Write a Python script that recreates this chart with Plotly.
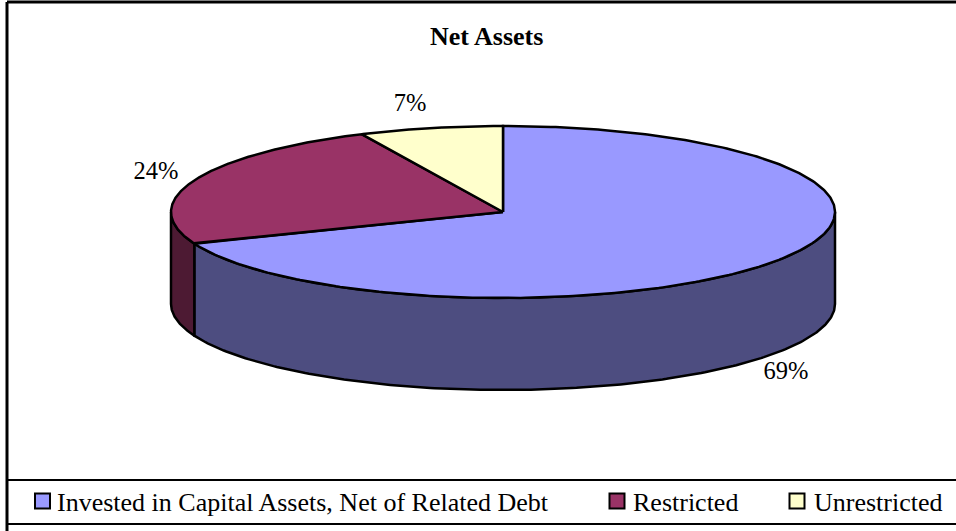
import numpy as np
import plotly.graph_objects as go

categories = ["Invested in Capital Assets, Net of Related Debt", "Restricted", "Unrestricted"]
values = [69, 24, 7]
top_colors = ["#9999FF", "#993366", "#FFFFCC"]
side_colors = ["#4D4D80", "#4D1A33", "#80805F"]
title_text = "Net Assets"

W, H = 956, 531
CX, CY, RX, RY, DEPTH = 503, 212, 332, 86, 92
label_pos = [(786, 373), (156, 173), (410, 105)]
legend_marker_x = [42.5, 617, 797]
legend_text_x = [55, 631, 812]
LEGEND_Y = 502
SERIF = "Liberation Serif"


def ell(deg, dy=0.0):
    t = np.radians(deg)
    return CX + RX * np.sin(t), CY - RY * np.cos(t) + dy


fig = go.Figure()
line = dict(color="black", width=2.5)
edges = np.cumsum([0] + values) / sum(values) * 360

# visible outer wall: angles between 90 and 270 degrees (clockwise from top)
for i in range(len(values)):
    a, b = max(edges[i], 90), min(edges[i + 1], 270)
    if b <= a:
        continue
    th = np.linspace(a, b, 200)
    x1, y1 = ell(th)
    x2, y2 = ell(th[::-1], DEPTH)
    fig.add_trace(go.Scatter(x=np.r_[x1, x2, x1[0]], y=np.r_[y1, y2, y1[0]], mode="lines",
                             fill="toself", fillcolor=side_colors[i], line=line,
                             hoverinfo="skip", showlegend=False))

# top face
for i in range(len(values)):
    th = np.linspace(edges[i], edges[i + 1], 300)
    x1, y1 = ell(th)
    fig.add_trace(go.Scatter(x=np.r_[CX, x1, CX], y=np.r_[CY, y1, CY], mode="lines",
                             fill="toself", fillcolor=top_colors[i], line=line,
                             name=categories[i], hoverinfo="skip", showlegend=False))

# percentage labels
fig.add_trace(go.Scatter(x=[p[0] for p in label_pos], y=[p[1] for p in label_pos], mode="text",
                         text=[f"{v}%" for v in values], textposition="middle center",
                         textfont=dict(family=SERIF, size=24.5, color="black"),
                         hoverinfo="skip", showlegend=False))

# legend keys and labels
fig.add_trace(go.Scatter(x=legend_marker_x, y=[LEGEND_Y - 1] * 3, mode="markers",
                         marker=dict(symbol="square", size=15, color=top_colors,
                                     line=dict(color="black", width=2)),
                         hoverinfo="skip", showlegend=False))
for x, c in zip(legend_text_x, categories):
    fig.add_annotation(x=x, y=LEGEND_Y, text=c, showarrow=False, xanchor="left", yanchor="middle",
                       font=dict(family=SERIF, size=26, color="black"))

fig.add_annotation(x=486, y=36, text=f"<b>{title_text}</b>", showarrow=False,
                   font=dict(family=SERIF, size=26, color="black"))

# frame and legend box
frame = dict(color="black", width=3)
fig.add_shape(type="line", x0=7, x1=7, y0=2, y1=531, line=frame, layer="below")
fig.add_shape(type="line", x0=7, x1=956, y0=2, y1=2, line=frame, layer="below")
fig.add_shape(type="line", x0=7, x1=956, y0=480, y1=480, line=dict(color="black", width=2), layer="below")
fig.add_shape(type="line", x0=7, x1=956, y0=524, y1=524, line=dict(color="black", width=2), layer="below")

fig.update_layout(width=W, height=H, margin=dict(l=0, r=0, t=0, b=0), autosize=False,
                  paper_bgcolor="white", plot_bgcolor="white", showlegend=False,
                  xaxis=dict(range=[0, W], visible=False, fixedrange=True),
                  yaxis=dict(range=[H, 0], visible=False, fixedrange=True))
fig.write_html("out.html", config={"displayModeBar": False},
               default_width=W, default_height=H,
               post_script="document.body.style.margin='0';")
